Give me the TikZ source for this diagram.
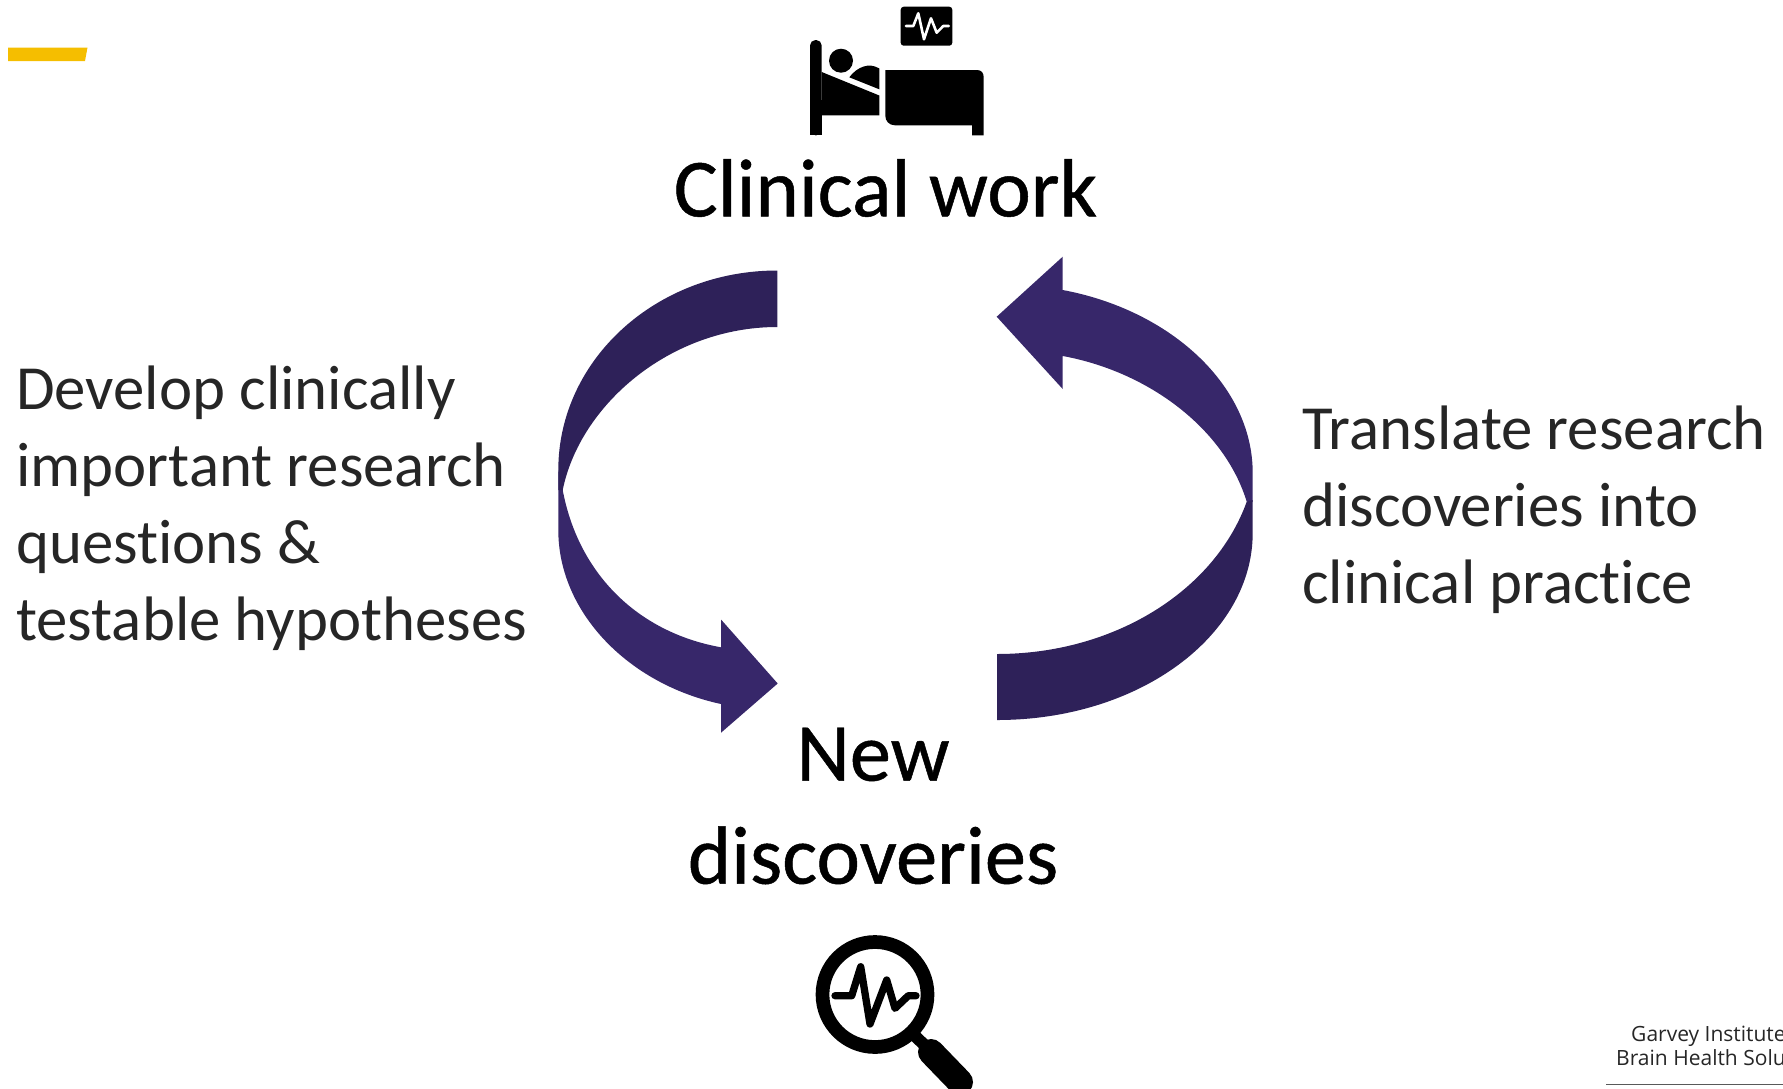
\documentclass[tikz,border=0pt]{standalone}
\usepackage{fontspec}
\setmainfont[Ligatures=NoCommon]{Carlito}
\newfontfamily\headfont[Ligatures=NoCommon,RawFeature={embolden=0.6}]{Carlito}
\newfontfamily\footfont{Open Sans}
\definecolor{arrowlight}{HTML}{37276A}
\definecolor{arrowdark}{HTML}{2E2159}
\definecolor{bargold}{HTML}{F5BE00}
\tikzset{
  heading/.style={inner sep=0pt,align=center,text=black,font=\headfont\fontsize{82.5}{103}\selectfont},
  bodytext/.style={inner sep=0pt,align=left,text=black!85,font=\fontsize{62.8}{77}\selectfont},
  foottext/.style={inner sep=0pt,anchor=base west,text=black!85,font=\footfont\fontsize{21}{26}\selectfont},
  icon/.style={fill=black,draw=none},
  ecg/.style={line join=round,line cap=round}
}
\begin{document}
\begin{tikzpicture}[x=1pt,y=-1pt]
\useasboundingbox (0,0) rectangle (1783,1088);
\clip (0,0) rectangle (1783,1088);
% accent bar
\fill[bargold] (8,47.5) -- (87.5,47.5) -- (85,61) -- (8,61) -- cycle;
% bed icon
\fill[icon,rounded corners=5.5pt] (810,135.3) -- (810,40) -- (821.7,40) -- (821.7,135.3) -- cycle;
\fill[icon] (810,135.3) rectangle (821.7,100);
\fill[icon] (821.7,72) -- (879.3,95.5) -- (879.3,115.3) -- (821.7,115.3) -- cycle;
\fill[icon] (841,60.7) circle (12);
\fill[icon] (849.3,77.3) .. controls (857,67) and (869,62) .. (879.3,68.5) -- (879.3,89.3) -- cycle;
\fill[icon] (885.3,70) -- (977,70) .. controls (981.5,70) and (983.7,73) .. (983.7,77.3) -- (983.7,135.3) -- (972,135.3) -- (972,125.3) -- (895,125.3) .. controls (889,125.3) and (885.3,121) .. (885.3,115.6) -- cycle;
\fill[icon,rounded corners=3pt] (900.7,6.7) rectangle (952.3,45.7);
\draw[white,line width=2.6pt,ecg] (906,26) -- (913.3,26) -- (918.3,13.3) -- (924,39.3) -- (931,18.3) -- (936.7,32.7) -- (943.3,26) -- (948.8,26);
% heading texts
\node[heading] (clinical) at (885.5,188) {Clinical work};
\node[heading] (discoveries) at (873,806) {New\\discoveries};
% left arrow
\fill[arrowlight] (558.3,470) -- (558.3,530) .. controls (558.3,612) and (628,684) .. (721,704) -- (721,732.7) -- (777.7,683.5) -- (721,619.5) -- (721,647.3) .. controls (636,632) and (578,572) .. (562.7,490) -- cycle;
\fill[arrowdark] (777.3,270.5) .. controls (656,270.5) and (558.3,360) .. (558.3,470) -- (558.3,490) -- (562.7,490) .. controls (580,405) and (670,327) .. (777.3,327) -- cycle;
% right arrow
\fill[arrowlight] (1062.7,290) .. controls (1170,310) and (1252.7,385) .. (1252.7,473) -- (1252.7,502) -- (1246.7,501.7) .. controls (1225,430) and (1150,372) .. (1062.7,356) -- (1062.7,389) -- (996.7,316.7) -- (1062.7,256.7) -- cycle;
\fill[arrowdark] (1252.7,500) -- (1252.7,533) .. controls (1252.7,635) and (1140,720) .. (997,720) -- (997,654) .. controls (1115,654) and (1215,590) .. (1246.7,501.7) -- cycle;
% body texts
\node[bodytext,anchor=north west] (develop) at (16,366) {Develop clinically\\important research\\questions \&\\testable hypotheses};
\node[bodytext,anchor=north west] (translate) at (1302,406) {Translate research\\discoveries into\\clinical practice};
% magnifier icon
\draw[line width=13.7pt,black] (875,994.5) circle (52.5);
\draw[black,line width=7.3pt,ecg] (835,995.7) -- (851.7,995.7) -- (860.7,966.7) -- (870,1024) -- (886.7,980) -- (895,1008.3) -- (908.3,995.7) -- (916,995.7);
\draw[black,line width=12pt] (915,1036) -- (936,1056);
\draw[black,line width=26pt,line cap=round] (931,1052) -- (960,1082);
% footer
\node[foottext] (garvey) at (1631,1041) {Garvey Institute};
\node[foottext] (brain) at (1616,1065.5) {Brain Health Solu};
\draw[black!65,line width=1.4pt] (1606,1084.5) -- (1783,1084.5);
\end{tikzpicture}
\end{document}
